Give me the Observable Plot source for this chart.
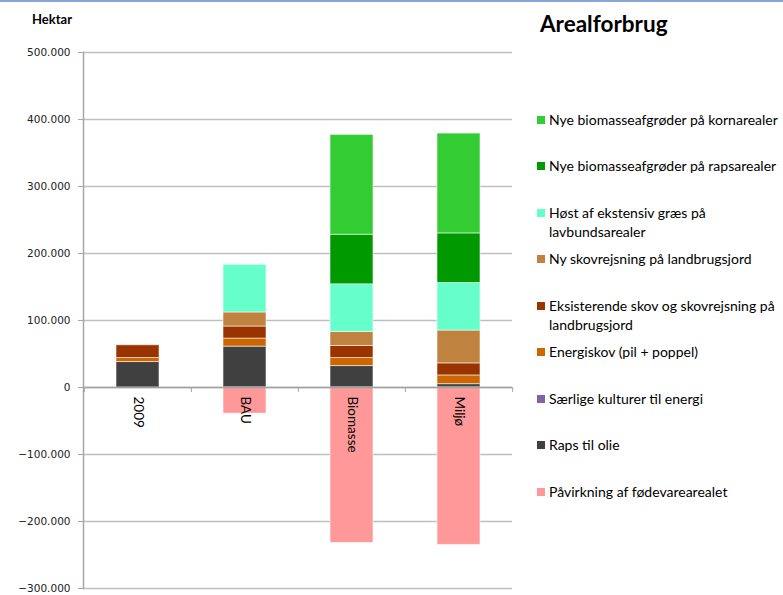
<!DOCTYPE html>
<html>
<head>
<meta charset="utf-8">
<script src="https://cdn.jsdelivr.net/npm/d3@7"></script>
<script src="https://cdn.jsdelivr.net/npm/@observablehq/plot@0.6"></script>
<style>
  html, body { margin: 0; padding: 0; background: #fff; }
  #wrap { position: relative; width: 783px; height: 595px; overflow: hidden; }
  #topline { position: absolute; left: 0; top: 0; width: 783px; height: 2px; background: #8ba5d6; }
  #chart { position: absolute; left: 0; top: 0; }
  #hektar { position: absolute; left: 32px; top: 11px; font: bold 13px Lato, sans-serif; color: #000; }
  #title { position: absolute; left: 540px; top: 10px; font: bold 22.5px Lato, sans-serif; color: #000; }
  .li { position: absolute; left: 537px; font: 14px Lato, sans-serif; color: #000; line-height: 19px; white-space: nowrap; }
  .li .sw { position: absolute; left: 0; top: 6px; width: 8px; height: 8px; }
  .li .tx { position: absolute; left: 12px; top: 0; }
</style>
</head>
<body>
<div id="wrap">
  <div id="topline"></div>
  <div id="chart"></div>
  <div id="hektar">Hektar</div>
  <div id="title">Arealforbrug</div>
  <div id="legend"></div>
</div>
<script>
const categories = ["2009", "BAU", "Biomasse", "Miljø"];

// series values per category (hektar)
const rapsTilOlie     = [38000, 61000, 32000, 5000];
const saerligeKult    = [0, 0, 0, 0];
const energiskov      = [6000, 12000, 12000, 13000];
const eksisterendeSkov= [19000, 18000, 18000, 18000];
const nySkovrejsning  = [0, 21000, 21000, 49000];
const hoestGraes      = [0, 71000, 71000, 71000];
const nyeRapsareal    = [0, 0, 74000, 74000];
const nyeKornareal    = [0, 0, 149000, 149000];
const paavirkning     = [0, -39000, -232000, -235000];

const yTicks = [-300000, -200000, -100000, 0, 100000, 200000, 300000, 400000, 500000];

// stacking order, bottom to top
const seriesNames = [
  "Raps til olie",
  "Særlige kulturer til energi",
  "Energiskov (pil + poppel)",
  "Eksisterende skov og skovrejsning på landbrugsjord",
  "Ny skovrejsning på landbrugsjord",
  "Høst af ekstensiv græs på lavbundsarealer",
  "Nye biomasseafgrøder på rapsarealer",
  "Nye biomasseafgrøder på kornarealer",
  "Påvirkning af fødevarearealet"
];
const seriesValues = [rapsTilOlie, saerligeKult, energiskov, eksisterendeSkov, nySkovrejsning, hoestGraes, nyeRapsareal, nyeKornareal, paavirkning];
const seriesColors = ["#404040", "#8064a2", "#cc6600", "#993300", "#c0823f", "#66ffcc", "#009900", "#33cc33", "#ff9999"];

// legend order (top to bottom) and labels with line breaks
const legendOrder = [7, 6, 5, 4, 3, 2, 1, 0, 8];
const legendLabels = {
  5: "Høst af ekstensiv græs på<br>lavbundsarealer",
  3: "Eksisterende skov og skovrejsning på<br>landbrugsjord"
};

const data = [];
seriesNames.forEach((s, si) => {
  categories.forEach((c, ci) => {
    data.push({category: c, series: s, value: seriesValues[si][ci]});
  });
});

const W = 520, H = 595, ML = 83, MR = 8, MT = 52, MB = 7;
const bw = (W - ML - MR) / categories.length;
const fmt = d => d === 0 ? "0" : d3.format(",")(d).replace(/,/g, ".");

const chart = Plot.plot({
  width: W,
  height: H,
  marginLeft: ML,
  marginRight: MR,
  marginTop: MT,
  marginBottom: MB,
  style: {fontFamily: "DejaVu Sans, sans-serif", background: "transparent"},
  x: {domain: categories, padding: 0, axis: null},
  y: {domain: [-300000, 500000], axis: null},
  color: {domain: seriesNames, range: seriesColors},
  marks: [
    Plot.ruleY(yTicks, {stroke: "#bfbfbf", strokeWidth: 1.5}),
    Plot.frame({anchor: "left", stroke: "#a6a6a6", strokeWidth: 1.5}),
    Plot.axisY({ticks: yTicks, tickFormat: fmt, tickSize: 5, stroke: "#a6a6a6", tickPadding: 8,
                fontSize: 10.5, fill: "#222", label: null}),
    Plot.barY(data, Plot.stackY({
      x: "category", y: "value", z: "series", fill: "series",
      order: seriesNames,
      insetLeft: 32, insetRight: 32,
      stroke: "#ffffff", strokeOpacity: 0.55, strokeWidth: 1
    })),
    Plot.ruleY([0], {stroke: "#a0a0a0", strokeWidth: 1.5}),
    Plot.ruleX(categories, {x: d => d, y1: 0, y2: 0, dx: -bw / 2, insetTop: 5, insetBottom: 0, stroke: "#a6a6a6"}),
    Plot.ruleX(categories.slice(-1), {x: d => d, y1: 0, y2: 0, dx: bw / 2, insetTop: 5, insetBottom: 0, stroke: "#a6a6a6"}),
    Plot.text(categories, {x: d => d, y: 0, text: d => d, rotate: 90, textAnchor: "start", dy: 9,
              fontFamily: "Lato, sans-serif", fontSize: 13.5, fill: "#000"})
  ]
});
document.getElementById("chart").appendChild(chart);

const legend = document.getElementById("legend");
legendOrder.forEach((si, k) => {
  const div = document.createElement("div");
  div.className = "li";
  div.style.top = (109.5 + k * 46.5) + "px";
  div.innerHTML = `<span class="sw" style="background:${seriesColors[si]}"></span><span class="tx">${legendLabels[si] || seriesNames[si]}</span>`;
  legend.appendChild(div);
});
</script>
</body>
</html>
